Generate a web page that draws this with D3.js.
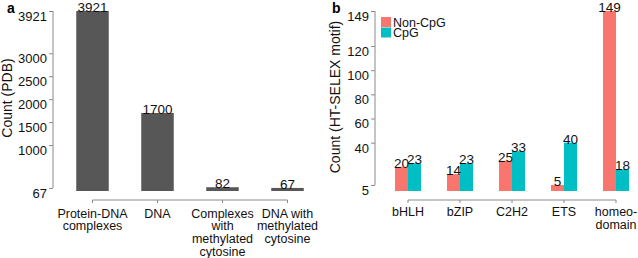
<!DOCTYPE html>
<html>
<head>
<meta charset="utf-8">
<script src="https://cdn.jsdelivr.net/npm/d3@7"></script>
<style>
  body { margin: 0; background: #fff; }
  svg { display: block; font-family: "Liberation Sans", Arial, sans-serif; }
  .axis path, .axis line { stroke: #8a8a8a; }
  .axis text { fill: #111; }
</style>
</head>
<body>
<svg id="chart" width="638" height="258"></svg>
<script>
// Panel a data
const pdbCategories = ["Protein-DNA\ncomplexes", "DNA", "Complexes\nwith\nmethylated\ncytosine", "DNA with\nmethylated\ncytosine"];
const pdbCounts = [3921, 1700, 82, 67];
const pdbTicks = [67, 1000, 1500, 2000, 2500, 3000, 3921];

// Panel b data
const tfFamilies = ["bHLH", "bZIP", "C2H2", "ETS", "homeo-\ndomain"];
const seriesNames = ["Non-CpG", "CpG"];
const nonCpG = [20, 14, 25, 5, 149];
const cpG = [23, 23, 33, 40, 18];
const motifTicks = [5, 40, 60, 80, 100, 120, 149];

const colors = { "Non-CpG": "#F8766D", "CpG": "#00BFC4" };

const svg = d3.select("#chart");

function multiline(sel, lineH) {
    sel.each(function () {
        const t = d3.select(this);
        const lines = t.text().split("\n");
        t.text(null);
        lines.forEach((l, i) => {
            t.append("tspan").attr("x", 0).attr("dy", i === 0 ? 0 : lineH).text(l);
        });
    });
}

// ---------- Panel a ----------
const xA = d3.scaleBand()
    .domain(pdbCategories)
    .range([60, 320])
    .paddingInner(0.5)
    .paddingOuter(0.25);

const yA = d3.scaleLinear()
    .domain([0, 3921])
    .range([191, 11]);

const gA = svg.append("g");

gA.selectAll(".barA")
    .data(pdbCategories)
    .enter().append("rect")
    .attr("class", "barA")
    .attr("x", d => xA(d))
    .attr("width", xA.bandwidth())
    .attr("y", (d, i) => yA(pdbCounts[i]))
    .attr("height", (d, i) => yA(0) - yA(pdbCounts[i]))
    .attr("fill", "#575757");

gA.selectAll(".valA")
    .data(pdbCategories)
    .enter().append("text")
    .attr("x", d => xA(d) + xA.bandwidth() / 2)
    .attr("y", (d, i) => yA(pdbCounts[i]) + 1)
    .attr("text-anchor", "middle")
    .attr("font-size", 13.5)
    .attr("fill", "#111")
    .text((d, i) => pdbCounts[i]);

// y axis a
const yAxisA = gA.append("g")
    .attr("class", "axis")
    .attr("transform", "translate(53,0)")
    .call(d3.axisLeft(yA).tickValues(pdbTicks).tickSize(4).tickPadding(2).tickFormat(d3.format("d")));
yAxisA.select(".domain").remove();
yAxisA.append("line")
    .attr("y1", yA(pdbTicks[0])).attr("y2", yA(pdbTicks[pdbTicks.length - 1]));
yAxisA.selectAll("text").attr("font-size", 13).attr("dy", "0.72em");

// x axis a
const xAxisA = gA.append("g")
    .attr("class", "axis")
    .attr("transform", `translate(0,${yA(0) + 9})`)
    .call(d3.axisBottom(xA).tickSize(3).tickSizeOuter(0));
xAxisA.select(".domain").remove();
xAxisA.append("line")
    .attr("x1", xA(pdbCategories[0]) + xA.bandwidth() / 2)
    .attr("x2", xA(pdbCategories[3]) + xA.bandwidth() / 2);
xAxisA.selectAll("text")
    .attr("font-size", 12.5)
    .attr("y", 17.5)
    .attr("dy", 0)
    .call(multiline, 12.7);

gA.append("text")
    .attr("transform", "translate(12,98) rotate(-90)")
    .attr("text-anchor", "middle")
    .attr("font-size", 14)
    .attr("fill", "#111")
    .text("Count (PDB)");

gA.append("text")
    .attr("x", 7).attr("y", 13)
    .attr("font-size", 14)
    .attr("font-weight", "bold")
    .text("a");

// ---------- Panel b ----------
const xB = d3.scaleBand()
    .domain(tfFamilies)
    .range([382, 642])
    .paddingInner(0.5)
    .paddingOuter(0.25);

const xSub = d3.scaleBand()
    .domain(seriesNames)
    .range([0, xB.bandwidth()]);

const yB = d3.scaleLinear()
    .domain([0, 149])
    .range([191, 11]);

const gB = svg.append("g");

const rows = tfFamilies.map((f, i) => ({ family: f, values: [
    { key: "Non-CpG", value: nonCpG[i] },
    { key: "CpG", value: cpG[i] }
] }));

const groups = gB.selectAll(".grp")
    .data(rows)
    .enter().append("g")
    .attr("class", "grp")
    .attr("transform", d => `translate(${xB(d.family)},0)`);

groups.selectAll("rect")
    .data(d => d.values)
    .enter().append("rect")
    .attr("x", d => xSub(d.key))
    .attr("width", xSub.bandwidth())
    .attr("y", d => yB(d.value))
    .attr("height", d => yB(0) - yB(d.value))
    .attr("fill", d => colors[d.key]);

groups.selectAll("text")
    .data(d => d.values)
    .enter().append("text")
    .attr("x", d => xSub(d.key) + xSub.bandwidth() / 2)
    .attr("y", d => yB(d.value) + 1)
    .attr("text-anchor", "middle")
    .attr("font-size", 13.5)
    .attr("fill", "#111")
    .text(d => d.value);

// y axis b
const yAxisB = gB.append("g")
    .attr("class", "axis")
    .attr("transform", "translate(375,0)")
    .call(d3.axisLeft(yB).tickValues(motifTicks).tickSize(4).tickPadding(2));
yAxisB.select(".domain").remove();
yAxisB.append("line")
    .attr("y1", yB(motifTicks[0])).attr("y2", yB(motifTicks[motifTicks.length - 1]));
yAxisB.selectAll("text").attr("font-size", 13).attr("dy", "0.72em");

// x axis b
const xAxisB = gB.append("g")
    .attr("class", "axis")
    .attr("transform", `translate(0,${yB(0) + 9})`)
    .call(d3.axisBottom(xB).tickSize(3).tickSizeOuter(0));
xAxisB.select(".domain").remove();
xAxisB.append("line")
    .attr("x1", xB(tfFamilies[0]) + xB.bandwidth() / 2)
    .attr("x2", xB(tfFamilies[4]) + xB.bandwidth() / 2);
xAxisB.selectAll("text")
    .attr("font-size", 12.5)
    .attr("y", 16)
    .attr("dy", 0)
    .call(multiline, 12.7);

gB.append("text")
    .attr("transform", "translate(340,97) rotate(-90)")
    .attr("text-anchor", "middle")
    .attr("font-size", 14)
    .attr("fill", "#111")
    .text("Count (HT-SELEX motif)");

gB.append("text")
    .attr("x", 332).attr("y", 13)
    .attr("font-size", 14)
    .attr("font-weight", "bold")
    .text("b");

// legend
const legend = gB.append("g").attr("transform", "translate(381,17)");
seriesNames.forEach((s, i) => {
    legend.append("rect")
        .attr("x", 0).attr("y", i * 10.5)
        .attr("width", 10).attr("height", 10)
        .attr("fill", colors[s]);
    legend.append("text")
        .attr("x", 12).attr("y", i * 10.5 + 9.5)
        .attr("font-size", 12.5)
        .attr("fill", "#111")
        .text(s);
});
</script>
</body>
</html>
